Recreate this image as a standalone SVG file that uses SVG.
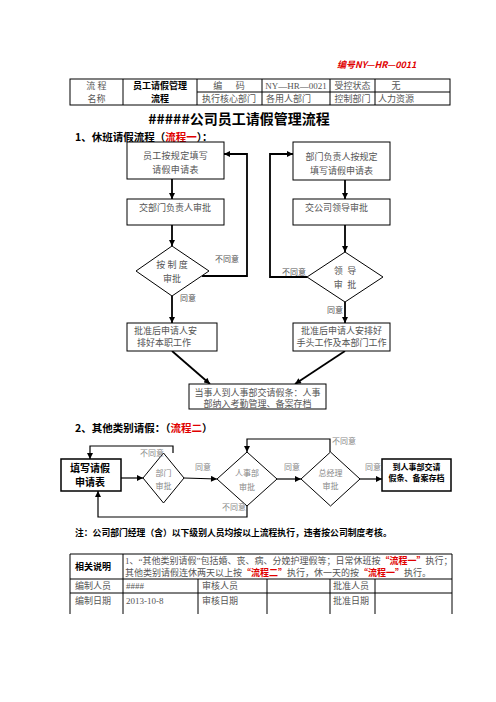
<svg xmlns="http://www.w3.org/2000/svg" width="496" height="702" viewBox="0 0 496 702">
<defs>
<style>
.t{font-family:"Liberation Serif","Noto Sans CJK SC",serif;fill:#555;font-size:9px}
.tc{text-anchor:middle}
.b{font-family:"Noto Sans CJK SC","Liberation Sans",sans-serif;font-weight:bold;fill:#000}
.red{fill:#e00000}
.box{fill:#fff;stroke:#000;stroke-width:1}
.box2{fill:#fff;stroke:#000;stroke-width:1.5}
.grid{stroke:#000;stroke-width:1;fill:none}
.c1{fill:none;stroke:#000;stroke-width:1.8}
.c2{fill:none;stroke:#000;stroke-width:1.2}
.lbl{font-family:"Liberation Serif","Noto Sans CJK SC",serif;font-size:8px;fill:#555}
.lbl2{font-family:"Liberation Serif","Noto Sans CJK SC",serif;font-size:8px;fill:#888}
</style>
<marker id="ah" viewBox="0 0 10 10" refX="10" refY="5" markerWidth="7" markerHeight="6" markerUnits="userSpaceOnUse" orient="auto">
<path d="M0,0 L10,5 L0,10 z" fill="#000"/>
</marker>
</defs>
<rect width="496" height="702" fill="#fff"/>

<!-- header -->
<text x="337" y="68" class="b red" font-size="9" font-style="italic">编号NY—HR—0011</text>

<g id="top-table">
<rect x="70" y="79" width="380" height="26" class="grid" stroke-width="1.2"/>
<line x1="197" y1="92" x2="450" y2="92" class="grid"/>
<line x1="123" y1="79" x2="123" y2="105" class="grid"/>
<line x1="197" y1="79" x2="197" y2="105" class="grid"/>
<line x1="262" y1="79" x2="262" y2="105" class="grid"/>
<line x1="330" y1="79" x2="330" y2="105" class="grid"/>
<line x1="375" y1="79" x2="375" y2="105" class="grid"/>
<text x="96.5" y="89" class="t tc">流 程</text>
<text x="96.5" y="102" class="t tc">名称</text>
<text x="160" y="89" class="b tc" font-size="9">员工请假管理</text>
<text x="160" y="102" class="b tc" font-size="9">流程</text>
<text x="229" y="89" class="t tc" xml:space="preserve">编      码</text>
<text x="229" y="102" class="t tc">执行核心部门</text>
<text x="296" y="89" class="t tc" fill="#333">NY—HR—0021</text>
<text x="266" y="102" class="t">各用人部门</text>
<text x="352.5" y="89" class="t tc">受控状态</text>
<text x="352.5" y="102" class="t tc">控制部门</text>
<text x="396" y="89" class="t tc">无</text>
<text x="378" y="102" class="t">人力资源</text>
</g>

<text x="239" y="124" class="b tc" font-size="14">#####公司员工请假管理流程</text>
<text x="75" y="141" class="b" font-size="10.5">1、休班请假流程（<tspan class="red">流程一</tspan>）：</text>

<g id="connectors">
<line x1="172" y1="179" x2="172" y2="199" class="c1" marker-end="url(#ah)"/>
<line x1="172" y1="225" x2="172" y2="246" class="c1" marker-end="url(#ah)"/>
<line x1="172" y1="296" x2="172" y2="323" class="c1" marker-end="url(#ah)"/>
<polyline points="202,276 247,276 247,154 224,154" class="c1" marker-end="url(#ah)"/>
<line x1="345" y1="180" x2="345" y2="199" class="c1" marker-end="url(#ah)"/>
<line x1="345" y1="225" x2="345" y2="252" class="c1" marker-end="url(#ah)"/>
<line x1="345" y1="302" x2="345" y2="323" class="c1" marker-end="url(#ah)"/>
<polyline points="307,277 270,277 270,154 293,154" class="c1" marker-end="url(#ah)"/>
<line x1="172" y1="351" x2="210" y2="384" class="c1" marker-end="url(#ah)"/>
<line x1="345" y1="351" x2="295" y2="384" class="c1" marker-end="url(#ah)"/>

<line x1="121" y1="478" x2="143" y2="478" class="c2" marker-end="url(#ah)"/>
<line x1="184" y1="478" x2="217" y2="479" class="c2" marker-end="url(#ah)"/>
<line x1="277" y1="479" x2="301" y2="479" class="c2" marker-end="url(#ah)"/>
<line x1="360" y1="479" x2="382" y2="479" class="c2" marker-end="url(#ah)"/>
<polyline points="173,453 173,446 90,446 90,459" class="c2" marker-end="url(#ah)"/>
<polyline points="247,506 247,517 98,517 98,491" class="c2" marker-end="url(#ah)"/>
<polyline points="330,452 330,439 247,439 247,452" class="c2" marker-end="url(#ah)"/>
</g>

<g id="n-apply">
<rect x="127" y="142" width="97" height="37" class="box"/>
<text x="175.5" y="159" class="t tc" font-size="10" letter-spacing="0.3">员工按规定填写</text>
<text x="175.5" y="173" class="t tc" font-size="10" letter-spacing="0.3">请假申请表</text>
</g>
<g id="n-dept">
<rect x="127" y="199" width="97" height="26" class="box"/>
<text x="139" y="211" class="t">交部门负责人审批</text>
</g>
<g id="n-rule">
<polygon points="172,246 209,271 172,296 136,271" class="box"/>
<text x="172" y="268" class="t tc" font-size="8.5" xml:space="preserve">按 制 度</text>
<text x="172" y="282" class="t tc" font-size="8.5">审批</text>
</g>
<g id="n-ok1">
<rect x="127" y="323" width="90" height="28" class="box"/>
<text x="134" y="334" class="t">批准后申请人安</text>
<text x="137" y="346" class="t">排好本职工作</text>
</g>
<g id="n-head">
<rect x="293" y="142" width="97" height="38" class="box"/>
<text x="341.5" y="160" class="t tc">部门负责人按规定</text>
<text x="341.5" y="174" class="t tc">填写请假申请表</text>
</g>
<g id="n-lead">
<rect x="293" y="199" width="97" height="26" class="box"/>
<text x="305" y="211" class="t">交公司领导审批</text>
</g>
<g id="n-leadd">
<polygon points="345,252 383,277 345,302 307,277" class="box"/>
<text x="345" y="274" class="t tc" font-size="8.5" xml:space="preserve">领  导</text>
<text x="345" y="288" class="t tc" font-size="8.5" xml:space="preserve">审  批</text>
</g>
<g id="n-ok2">
<rect x="293" y="323" width="97" height="28" class="box"/>
<text x="341.5" y="334" class="t tc">批准后申请人安排好</text>
<text x="341.5" y="346" class="t tc">手头工作及本部门工作</text>
</g>
<g id="n-hr">
<rect x="189" y="384" width="137" height="25" class="box"/>
<text x="257.5" y="396" class="t tc" font-size="8.7">当事人到人事部交请假条：人事</text>
<text x="257.5" y="407" class="t tc" font-size="8.7">部纳入考勤管理、备案存档</text>
</g>

<g id="labels1">
<text x="215" y="262" class="lbl">不同意</text>
<text x="180" y="301" class="lbl">同意</text>
<text x="282" y="275" class="lbl">不同意</text>
<text x="327" y="313" class="lbl">同意</text>
</g>

<text x="75" y="432" class="b" font-size="10.5">2、其他类别请假：（<tspan class="red">流程二</tspan>）</text>

<g id="f2-apply">
<rect x="61" y="459" width="60" height="32" class="box2"/>
<text x="90" y="472" class="b tc" font-size="10">填写请假</text>
<text x="90" y="486" class="b tc" font-size="10">申请表</text>
</g>
<g id="f2-dept">
<polygon points="163.5,453 184,478 163.5,503 143,478" class="box"/>
<text x="163.5" y="476" class="lbl2 tc">部门</text>
<text x="163.5" y="489" class="lbl2 tc" font-size="8.5">审批</text>
</g>
<g id="f2-hr">
<polygon points="247,452 277,479 247,506 217,479" class="box"/>
<text x="247" y="476" class="lbl2 tc">人事部</text>
<text x="247" y="490" class="lbl2 tc" font-size="8.5">审批</text>
</g>
<g id="f2-gm">
<polygon points="330.5,452 360,479 330.5,506 301,479" class="box"/>
<text x="330.5" y="476" class="lbl2 tc">总经理</text>
<text x="330.5" y="489" class="lbl2 tc" font-size="8.5">审批</text>
</g>
<g id="f2-file">
<rect x="382" y="459" width="69" height="32" class="box2"/>
<text x="416.5" y="470" class="b tc" font-size="8">到人事部交请</text>
<text x="416.5" y="481" class="b tc" font-size="8">假条、备案存档</text>
</g>

<g id="labels2">
<text x="140" y="456" class="lbl2">不同意</text>
<text x="195" y="470" class="lbl2">同意</text>
<text x="222" y="510" class="lbl2">不同意</text>
<text x="284" y="470" class="lbl2">同意</text>
<text x="332" y="444" class="lbl2">不同意</text>
<text x="365" y="470" class="lbl2">同意</text>
</g>

<text x="75" y="536" class="b" font-size="8.8">注：公司部门经理（含）以下级别人员均按以上流程执行，违者按公司制度考核。</text>

<g id="bottom-table">
<line x1="70" y1="554" x2="452" y2="554" class="grid"/>
<line x1="70" y1="579" x2="452" y2="579" class="grid"/>
<line x1="70" y1="593" x2="452" y2="593" class="grid"/>
<line x1="70" y1="554" x2="70" y2="614" class="grid"/>
<line x1="123" y1="554" x2="123" y2="614" class="grid"/>
<line x1="452" y1="554" x2="452" y2="614" class="grid"/>
<line x1="198" y1="579" x2="198" y2="614" class="grid"/>
<line x1="267" y1="579" x2="267" y2="614" class="grid"/>
<line x1="330" y1="579" x2="330" y2="614" class="grid"/>
<line x1="375" y1="579" x2="375" y2="614" class="grid"/>
<text x="75" y="570" class="b" font-size="9">相关说明</text>
<text x="125" y="564" class="t" font-size="8.5">1、“其他类别请假”包括婚、丧、病、分娩护理假等；日常休班按<tspan class="b red">“流程一”</tspan>执行；</text>
<text x="125" y="575.5" class="t" font-size="8.5">其他类别请假连休两天以上按<tspan class="b red">“流程二”</tspan>执行，休一天的按<tspan class="b red">“流程一”</tspan>执行。</text>
<text x="75" y="589" class="t">编制人员</text>
<text x="126" y="589" class="t">####</text>
<text x="202" y="589" class="t">审核人员</text>
<text x="333" y="589" class="t">批准人员</text>
<text x="75" y="604" class="t">编制日期</text>
<text x="126" y="604" class="t" fill="#333">2013-10-8</text>
<text x="202" y="604" class="t">审核日期</text>
<text x="333" y="604" class="t">批准日期</text>
</g>
</svg>
